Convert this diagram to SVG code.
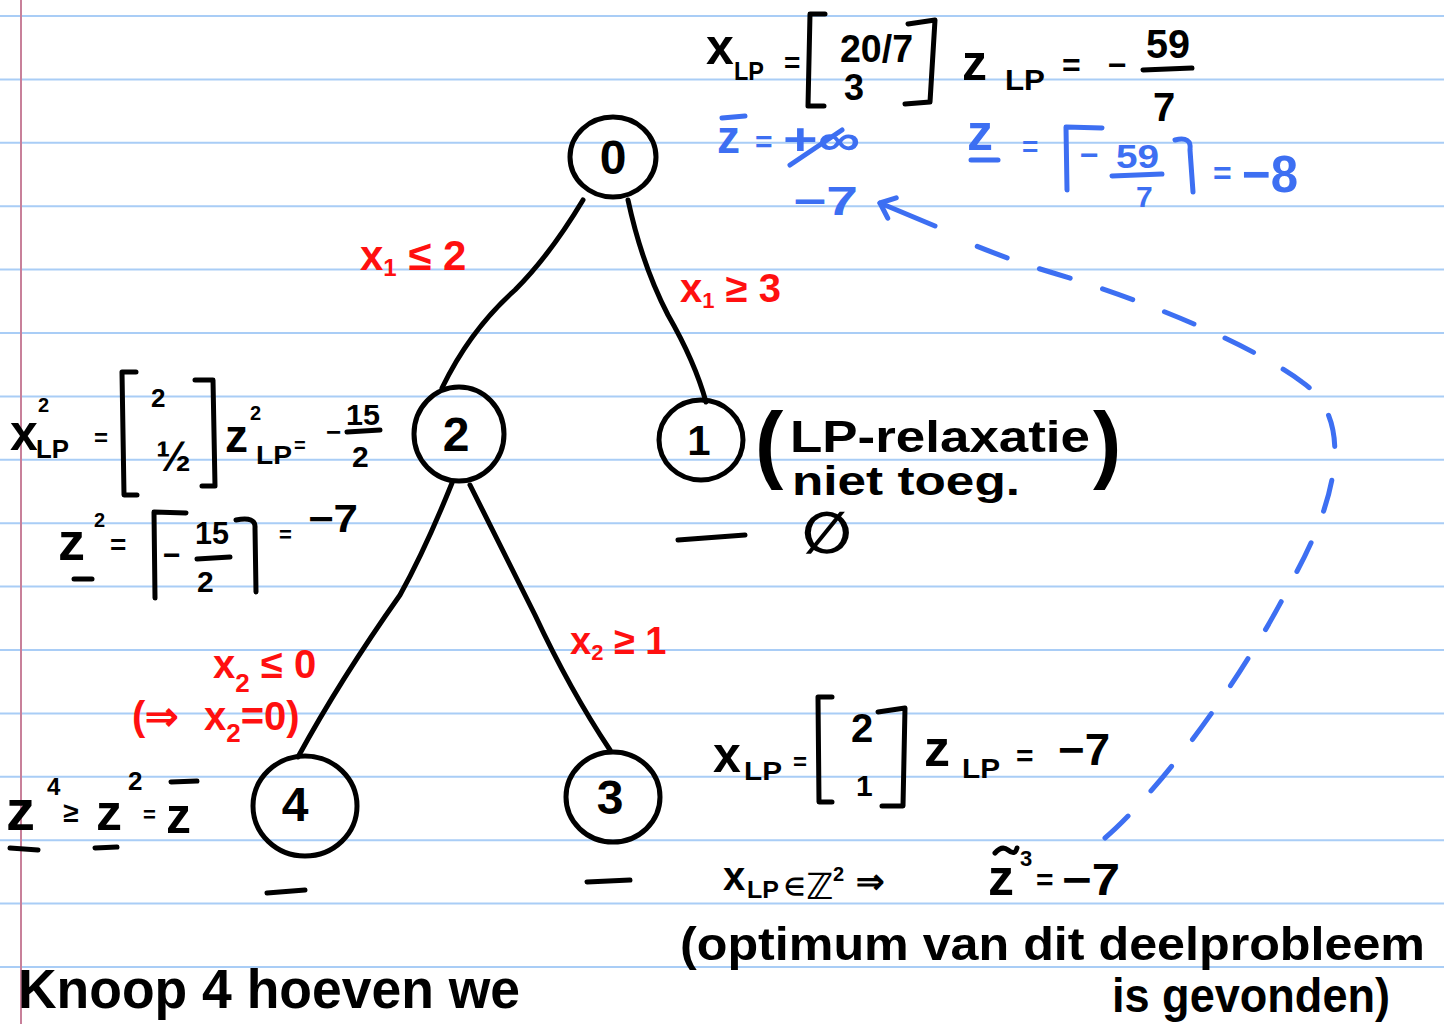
<svg xmlns="http://www.w3.org/2000/svg" width="1444" height="1024" viewBox="0 0 1444 1024">
<style>
text{font-family:"Liberation Sans",Arial,sans-serif;font-weight:bold}
.k{fill:#000}
.r{fill:#ff1010}
.b{fill:#3d6ff2}
.ln{stroke:#a9cdf6;stroke-width:2}
.node{fill:none;stroke:#000;stroke-width:5}
.edge{fill:none;stroke:#000;stroke-width:5;stroke-linecap:round;stroke-linejoin:round}
.kb{fill:none;stroke:#000;stroke-width:5;stroke-linecap:round;stroke-linejoin:round}
.bb{fill:none;stroke:#3d6ff2;stroke-width:5;stroke-linecap:round;stroke-linejoin:round}
.dj{font-family:"DejaVu Sans",sans-serif}
</style>
<defs>
<marker id="chev" markerUnits="userSpaceOnUse" markerWidth="40" markerHeight="40" viewBox="-20 -20 40 40" refX="0" refY="0" orient="auto">
<path d="M-13,-11 L0,0 L-13,11" fill="none" stroke="#3d6ff2" stroke-width="5" stroke-linecap="round" stroke-linejoin="round"/>
</marker>
</defs>
<rect width="1444" height="1024" fill="#fff"/>
<g id="paper">
<line class="ln" x1="0" y1="16" x2="1444" y2="16"/>
<line class="ln" x1="0" y1="79.4" x2="1444" y2="79.4"/>
<line class="ln" x1="0" y1="142.8" x2="1444" y2="142.8"/>
<line class="ln" x1="0" y1="206.2" x2="1444" y2="206.2"/>
<line class="ln" x1="0" y1="269.6" x2="1444" y2="269.6"/>
<line class="ln" x1="0" y1="333" x2="1444" y2="333"/>
<line class="ln" x1="0" y1="396.4" x2="1444" y2="396.4"/>
<line class="ln" x1="0" y1="459.8" x2="1444" y2="459.8"/>
<line class="ln" x1="0" y1="523.2" x2="1444" y2="523.2"/>
<line class="ln" x1="0" y1="586.6" x2="1444" y2="586.6"/>
<line class="ln" x1="0" y1="650" x2="1444" y2="650"/>
<line class="ln" x1="0" y1="713.4" x2="1444" y2="713.4"/>
<line class="ln" x1="0" y1="776.8" x2="1444" y2="776.8"/>
<line class="ln" x1="0" y1="840.2" x2="1444" y2="840.2"/>
<line class="ln" x1="0" y1="903.6" x2="1444" y2="903.6"/>
<line class="ln" x1="0" y1="967" x2="1444" y2="967"/>
<line x1="21" y1="0" x2="21" y2="1024" stroke="#c8809a" stroke-width="2"/>
</g>

<g id="connectors">
<path class="edge" d="M583,200 Q550,255 515,290 Q470,330 442,388"/>
<path class="edge" d="M628,200 Q642,265 668,315 Q695,362 706,402"/>
<path class="edge" d="M452,483 Q425,550 400,595 Q340,680 298,757"/>
<path class="edge" d="M470,485 Q505,555 535,615 Q570,690 610,750"/>
<path class="bb" stroke-dasharray="32 34" d="M1105,838 C1150,800 1238,690 1295,575 C1336,500 1356,420 1302,382 C1252,345 1150,302 1050,272 C1010,260 975,246 948,234"/>
<path class="bb" d="M935,226 L880,203" marker-end="url(#chev)"/>
</g>

<g id="node0">
<ellipse class="node" cx="613" cy="157" rx="43" ry="40"/>
<text class="k" x="613" y="174" font-size="48" text-anchor="middle">0</text>
</g>
<g id="node2">
<ellipse class="node" cx="459" cy="434" rx="45" ry="47"/>
<text class="k" x="456" y="451" font-size="48" text-anchor="middle">2</text>
</g>
<g id="node1">
<ellipse class="node" cx="701" cy="440" rx="42" ry="40"/>
<text class="k" x="699" y="455" font-size="42" text-anchor="middle">1</text>
</g>
<g id="node4">
<ellipse class="node" cx="305" cy="806" rx="52" ry="50"/>
<text class="k" x="295" y="821" font-size="48" text-anchor="middle">4</text>
</g>
<g id="node3">
<ellipse class="node" cx="613" cy="797" rx="47" ry="45"/>
<text class="k" x="610" y="814" font-size="48" text-anchor="middle">3</text>
</g>

<g id="edge-labels">
<text class="r" x="360" y="270" font-size="42">x<tspan font-size="24" dy="6">1</tspan><tspan dy="-6"> ≤ 2</tspan></text>
<text class="r" x="680" y="302" font-size="40">x<tspan font-size="22" dy="6">1</tspan><tspan dy="-6"> ≥ 3</tspan></text>
<text class="r" x="570" y="654" font-size="38">x<tspan font-size="22" dy="6">2</tspan><tspan dy="-6"> ≥ 1</tspan></text>
<text class="r" x="213" y="678" font-size="40">x<tspan font-size="26" dy="14">2</tspan><tspan dy="-14"> ≤ 0</tspan></text>
<text class="r" x="132" y="730" font-size="40">(⇒<tspan x="204">x</tspan><tspan font-size="26" dy="12">2</tspan><tspan dy="-12">=0)</tspan></text>
</g>

<g id="root-info">
<text class="k" x="706" y="64" font-size="50">x</text>
<text class="k" x="734" y="80" font-size="26" textLength="30" lengthAdjust="spacingAndGlyphs">LP</text>
<text class="k" x="784" y="72" font-size="28">=</text>
<path class="kb" d="M825,14 L810,14 L808,106 L824,106"/>
<text class="k" x="840" y="62" font-size="38" textLength="73" lengthAdjust="spacingAndGlyphs">20/7</text>
<text class="k" x="844" y="100" font-size="36">3</text>
<path class="kb" d="M908,24 L935,20 L930,102 L905,104"/>
<text class="k" x="962" y="80" font-size="50">z</text>
<text class="k" x="1005" y="90" font-size="30" textLength="40" lengthAdjust="spacingAndGlyphs">LP</text>
<text class="k" x="1062" y="76" font-size="32">=</text>
<text class="k" x="1108" y="76" font-size="32">−</text>
<text class="k" x="1146" y="58" font-size="40" textLength="44" lengthAdjust="spacingAndGlyphs">59</text>
<line class="kb" x1="1143" y1="70" x2="1192" y2="68"/>
<text class="k" x="1153" y="121" font-size="40">7</text>

<line class="bb" x1="722" y1="118" x2="745" y2="116"/>
<text class="b" x="717" y="153" font-size="46">z</text>
<text class="b" x="755" y="152" font-size="30">=</text>
<text class="b" x="783" y="155" font-size="44" textLength="77" lengthAdjust="spacingAndGlyphs">+∞</text>
<line class="bb" x1="790" y1="165" x2="842" y2="130"/>
<text class="b" x="793" y="215" font-size="40" textLength="65" lengthAdjust="spacingAndGlyphs">−7</text>

<text class="b" x="967" y="150" font-size="52">z</text>
<line class="bb" x1="971" y1="160" x2="998" y2="160"/>
<text class="b" x="1022" y="156" font-size="28">=</text>
<path class="bb" d="M1102,128 L1066,127 L1067,190"/>
<text class="b" x="1080" y="166" font-size="32">−</text>
<text class="b" x="1116" y="168" font-size="34" textLength="43" lengthAdjust="spacingAndGlyphs">59</text>
<line class="bb" x1="1112" y1="176" x2="1162" y2="174"/>
<text class="b" x="1136" y="207" font-size="30">7</text>
<path class="bb" d="M1175,140 Q1192,136 1190,150 L1193,192"/>
<text class="b" x="1213" y="184" font-size="32">=</text>
<text class="b" x="1242" y="192" font-size="52" textLength="56" lengthAdjust="spacingAndGlyphs">−8</text>
</g>

<g id="node2-info">
<text class="k" x="10" y="450" font-size="50">x</text>
<text class="k" x="38" y="412" font-size="20">2</text>
<text class="k" x="36" y="458" font-size="26" textLength="33" lengthAdjust="spacingAndGlyphs">LP</text>
<text class="k" x="94" y="446" font-size="24">=</text>
<path class="kb" d="M136,372 L122,372 L124,495 L137,495"/>
<text class="k" x="151" y="407" font-size="26">2</text>
<text class="k" x="156" y="471" font-size="42">½</text>
<path class="kb" d="M195,380 L213,380 L215,486 L202,486"/>
<text class="k" x="225" y="452" font-size="46">z</text>
<text class="k" x="250" y="420" font-size="20">2</text>
<text class="k" x="256" y="464" font-size="26" textLength="36" lengthAdjust="spacingAndGlyphs">LP</text>
<text class="k" x="294" y="452" font-size="20">=</text>
<text class="k" x="326" y="441" font-size="26">−</text>
<text class="k" x="346" y="425" font-size="30" textLength="34" lengthAdjust="spacingAndGlyphs">15</text>
<line class="kb" x1="347" y1="432" x2="380" y2="430"/>
<text class="k" x="352" y="467" font-size="30">2</text>

<text class="k" x="58" y="560" font-size="54">z</text>
<line class="kb" x1="74" y1="579" x2="92" y2="579"/>
<text class="k" x="94" y="527" font-size="20">2</text>
<text class="k" x="110" y="554" font-size="28">=</text>
<path class="kb" d="M186,513 L154,512 L155,598"/>
<text class="k" x="163" y="565" font-size="30">−</text>
<text class="k" x="195" y="544" font-size="32" textLength="34" lengthAdjust="spacingAndGlyphs">15</text>
<line class="kb" x1="197" y1="559" x2="230" y2="557"/>
<text class="k" x="197" y="592" font-size="30">2</text>
<path class="kb" d="M236,520 Q256,516 255,528 L256,592"/>
<text class="k" x="279" y="542" font-size="22">=</text>
<text class="k" x="308" y="532" font-size="38" textLength="50" lengthAdjust="spacingAndGlyphs">−7</text>
</g>

<g id="node1-info">
<text class="k" x="755" y="472" font-size="85">(</text>
<text class="k" x="790" y="452" font-size="44" textLength="300" lengthAdjust="spacingAndGlyphs">LP-relaxatie</text>
<text class="k" x="792" y="495" font-size="40" textLength="228" lengthAdjust="spacingAndGlyphs">niet toeg.</text>
<text class="k" x="1093" y="472" font-size="85">)</text>
<line class="kb" x1="678" y1="540" x2="745" y2="535"/>
<text class="k dj" x="802" y="553" font-size="58">∅</text>
</g>

<g id="node4-info">
<text class="k" x="6" y="830" font-size="58">z</text>
<line class="kb" x1="10" y1="848" x2="38" y2="850"/>
<text class="k" x="47" y="795" font-size="24">4</text>
<text class="k" x="63" y="822" font-size="28">≥</text>
<text class="k" x="96" y="830" font-size="52">z</text>
<line class="kb" x1="95" y1="848" x2="117" y2="847"/>
<text class="k" x="128" y="790" font-size="26">2</text>
<text class="k" x="143" y="822" font-size="22">=</text>
<line class="kb" x1="171" y1="782" x2="197" y2="781"/>
<text class="k" x="166" y="833" font-size="50">z</text>
<line class="kb" x1="267" y1="893" x2="305" y2="890"/>
</g>

<g id="node3-info">
<line class="kb" x1="587" y1="882" x2="630" y2="880"/>
<text class="k" x="713" y="772" font-size="50">x</text>
<text class="k" x="744" y="780" font-size="26" textLength="38" lengthAdjust="spacingAndGlyphs">LP</text>
<text class="k" x="793" y="770" font-size="24">=</text>
<path class="kb" d="M832,697 L818,697 L819,802 L832,802"/>
<text class="k" x="851" y="742" font-size="40">2</text>
<text class="k" x="856" y="796" font-size="30">1</text>
<path class="kb" d="M878,712 L905,708 L903,806 L882,806"/>
<text class="k" x="924" y="766" font-size="52">z</text>
<text class="k" x="962" y="778" font-size="28" textLength="38" lengthAdjust="spacingAndGlyphs">LP</text>
<text class="k" x="1016" y="766" font-size="30">=</text>
<text class="k" x="1058" y="765" font-size="44" textLength="52" lengthAdjust="spacingAndGlyphs">−7</text>

<text class="k" x="723" y="890" font-size="40">x</text>
<text class="k" x="747" y="898" font-size="24" textLength="32" lengthAdjust="spacingAndGlyphs">LP</text>
<text class="k" x="784" y="895" font-size="24">∈</text>
<text class="k dj" x="806" y="899" font-size="36">ℤ</text>
<text class="k" x="833" y="881" font-size="20">2</text>
<text class="k" x="856" y="893" font-size="34">⇒</text>
<path class="kb" d="M995,853 Q1002,845 1008,850 Q1015,856 1017,848"/>
<text class="k" x="988" y="895" font-size="52">z</text>
<text class="k" x="1020" y="866" font-size="22">3</text>
<text class="k" x="1036" y="890" font-size="30">=</text>
<text class="k" x="1062" y="895" font-size="44" textLength="58" lengthAdjust="spacingAndGlyphs">−7</text>

<text class="k" x="680" y="960" font-size="46" textLength="745" lengthAdjust="spacingAndGlyphs">(optimum van dit deelprobleem</text>
<text class="k" x="1112" y="1012" font-size="48" textLength="278" lengthAdjust="spacingAndGlyphs">is gevonden)</text>
</g>

<g id="note">
<text class="k" x="18" y="1008" font-size="56" textLength="502" lengthAdjust="spacingAndGlyphs">Knoop 4 hoeven we</text>
</g>
</svg>
